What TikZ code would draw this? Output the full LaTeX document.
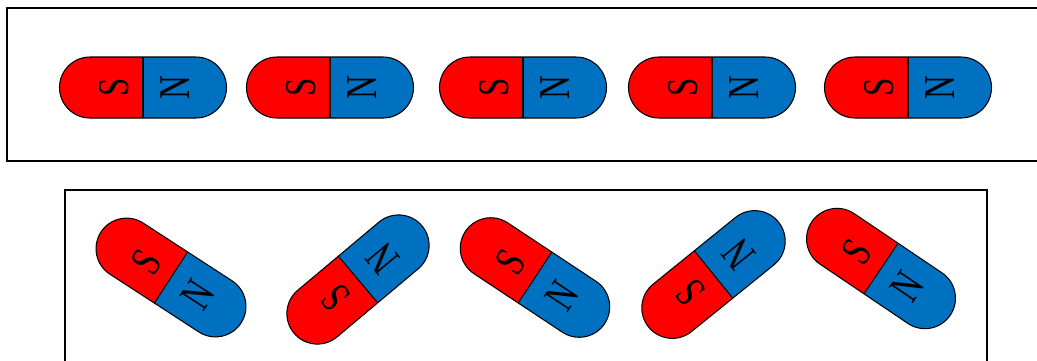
\documentclass[tikz,border=0pt]{standalone}
\usepackage{fontspec}
\usepackage{tikz}

\newfontfamily\polefont{Liberation Serif}

\definecolor{magnetred}{RGB}{255,0,0}
\definecolor{magnetblue}{RGB}{0,112,192}

\tikzset{
    frame/.style={line width=1.1pt},
    pole/.style={transform shape, rotate=90, xscale=0.75, inner sep=0pt,
        font=\polefont\fontsize{25}{25}\selectfont}
}

\begin{document}
\begin{tikzpicture}[x=0.02cm, y=0.02cm]

\useasboundingbox (0,0) rectangle (1037,360);

% Frames (ordered and disordered)
\draw[frame] (1040,352) -- (7,352) -- (7,199) -- (1040,199);
\draw[frame] (65,-5) -- (65,170) -- (987,170) -- (987,-5);

% Magnets: centre x / centre y / angle
\foreach \x/\y/\a [count=\i] in {143/272.5/0, 330/272.5/0, 523/272.5/0,
        712/272.5/0, 908/272.5/0,
        171/82.5/-33, 358/80.5/40, 535/82.5/-33.5,
        713.5/85.5/39, 881/91.5/-34}
{
\begin{scope}[shift={(\x,\y)}, rotate=\a]
    % south half
    \fill[magnetred] (0,-30.5) -- (-53,-30.5)
        arc[start angle=270, end angle=90, radius=30.5] -- (0,30.5) -- cycle;
    % north half
    \fill[magnetblue] (0,30.5) -- (53,30.5)
        arc[start angle=90, end angle=-90, radius=30.5] -- (0,-30.5) -- cycle;
    % outline
    \draw[line width=0.6pt] (-53,-30.5) -- (53,-30.5)
        arc[start angle=-90, end angle=90, radius=30.5] -- (-53,30.5)
        arc[start angle=90, end angle=270, radius=30.5] -- cycle;
    \draw[line width=0.6pt] (0,-30.5) -- (0,30.5);
    \node[pole] (s\i) at (-29,0) {S};
    \node[pole] (n\i) at (32,0) {N};
\end{scope}
}

\end{tikzpicture}
\end{document}
